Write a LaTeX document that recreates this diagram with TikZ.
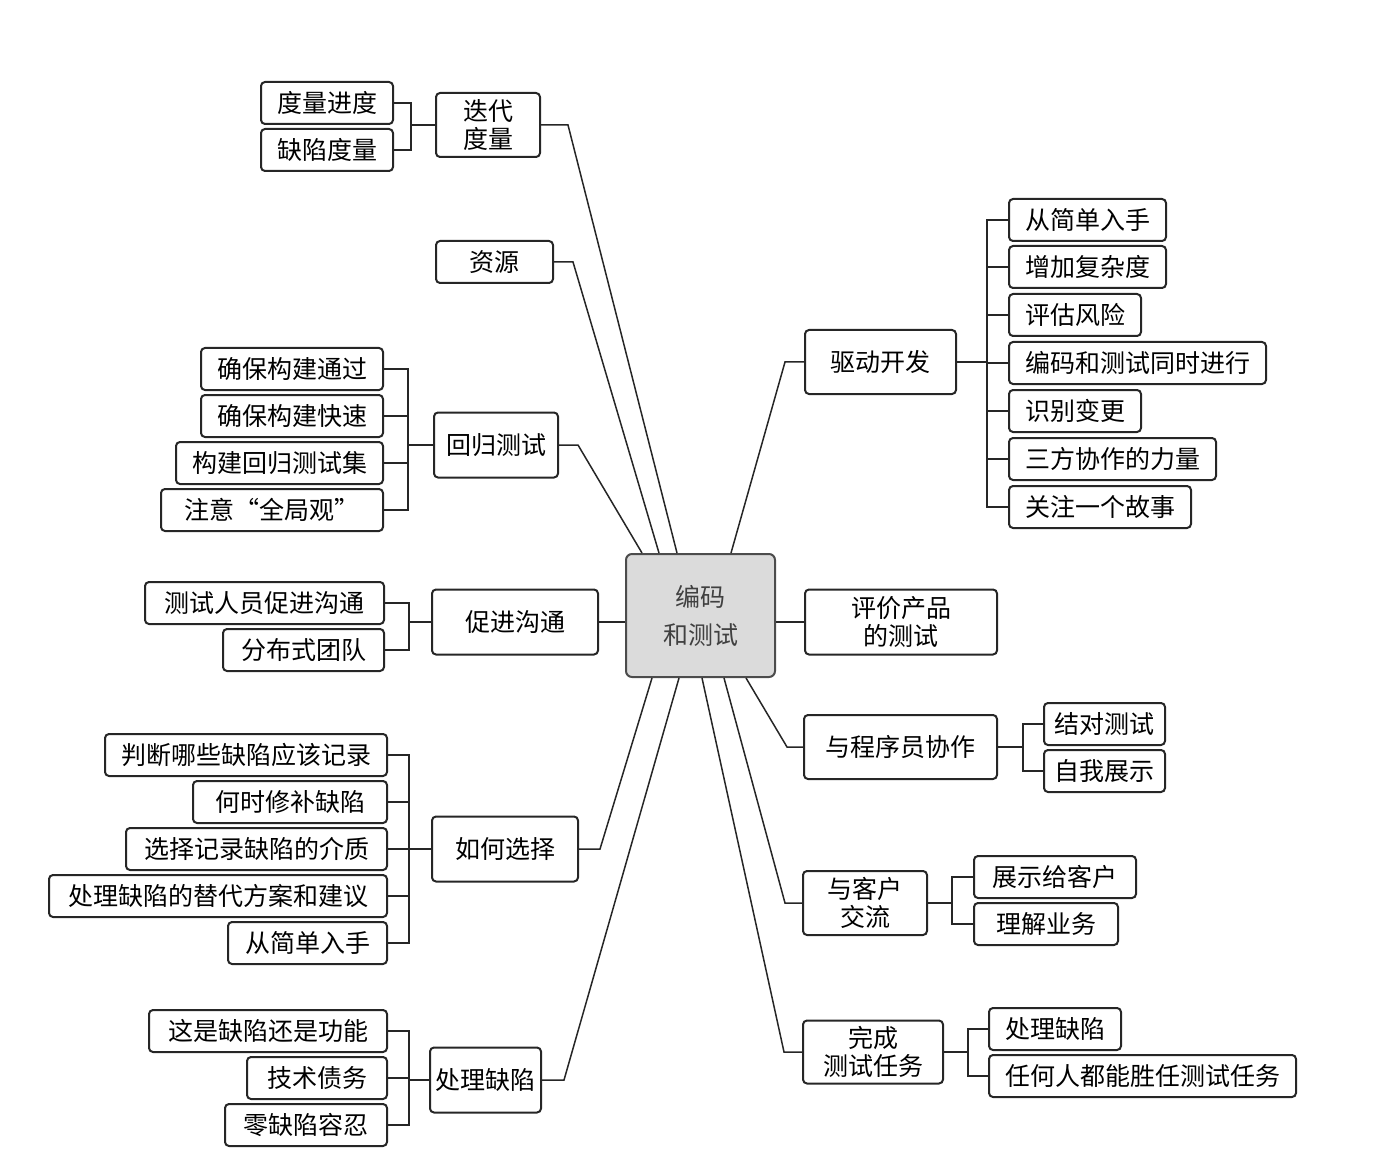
\documentclass[tikz,border=0pt]{standalone}
\usepackage{fontspec}
\setmainfont{Noto Sans CJK SC}
\usetikzlibrary{calc}
\begin{document}
\begin{tikzpicture}[x=0.5pt,y=-0.5pt,
  every node/.style={font=\fontsize{12.5}{14}\selectfont},
  box/.style={draw=black!85, line width=1pt, rounded corners=2pt, fill=white,
    inner sep=0pt, align=center, text=black},
  leaf/.style={box, inner xsep=8pt, minimum height=21pt},
  sz/.style 2 args={minimum width=#1*0.5pt, minimum height=#2*0.5pt},
  wd/.style={minimum width=#1*0.5pt},
  hub/.style={draw=black!70, line width=1pt, rounded corners=3pt, fill=black!14,
    inner sep=0pt, align=center, text=black!75,
    font=\fontsize{12.5}{19}\selectfont},
  link/.style={line width=0.75pt, draw=black!85},
]
\useasboundingbox (0,0) rectangle (1380,1176);

% central topic
\node[hub, sz={149}{123}] (C) at (700.5,615.5) {编码\\和测试};

% ---------- left branches ----------
% iteration metrics
\node[box, sz={104}{64}] (A) at (488,125) {迭代\\度量};
\node[leaf, anchor=east] (a1) at (394,103) {度量进度};
\node[leaf, anchor=east] (a2) at (394,150) {缺陷度量};
\coordinate (ja) at (411,125);
\draw[link] (a1.east) -| (ja) -- (A.west);
\draw[link] (a2.east) -| (ja);

% resources
\node[box, sz={117}{42}] (B) at (494.5,262) {资源};

% regression testing
\node[box, sz={124}{65}] (R) at (496,445) {回归测试};
\node[leaf, anchor=east] (r1) at (384,369) {确保构建通过};
\node[leaf, anchor=east] (r2) at (384,416) {确保构建快速};
\node[leaf, anchor=east] (r3) at (384,463) {构建回归测试集};
\node[leaf, anchor=east, wd=222] (r4) at (384,510) {注意“全局观”};
\coordinate (jr) at (408,445);
\foreach \n in {r1,r2,r3,r4} \draw[link] (\n.east) -| (jr);
\draw[link] (jr) -- (R.west);

% communication
\node[box, sz={166}{65}] (P) at (515,622) {促进沟通};
\node[leaf, anchor=east, wd=239] (p1) at (385,603) {测试人员促进沟通};
\node[leaf, anchor=east, wd=161] (p2) at (385,650) {分布式团队};
\coordinate (jp) at (409,622);
\foreach \n in {p1,p2} \draw[link] (\n.east) -| (jp);
\draw[link] (jp) -- (P.west);

% how to choose
\node[box, sz={146}{65}] (H) at (505,849) {如何选择};
\node[leaf, anchor=east] (h1) at (388,755) {判断哪些缺陷应该记录};
\node[leaf, anchor=east, wd=194] (h2) at (388,802) {何时修补缺陷};
\node[leaf, anchor=east, wd=261] (h3) at (388,849) {选择记录缺陷的介质};
\node[leaf, anchor=east, wd=338] (h4) at (388,896) {处理缺陷的替代方案和建议};
\node[leaf, anchor=east, wd=159] (h5) at (388,943) {从简单入手};
\coordinate (jh) at (409,849);
\foreach \n in {h1,h2,h3,h4,h5} \draw[link] (\n.east) -| (jh);
\draw[link] (jh) -- (H.west);

% handling defects
\node[box, sz={111}{65}] (D) at (485.5,1080) {处理缺陷};
\node[leaf, anchor=east, wd=238] (d1) at (388,1031) {这是缺陷还是功能};
\node[leaf, anchor=east, wd=140] (d2) at (388,1078) {技术债务};
\node[leaf, anchor=east, wd=162] (d3) at (388,1125) {零缺陷容忍};
\coordinate (jd) at (409,1080);
\foreach \n in {d1,d2,d3} \draw[link] (\n.east) -| (jd);
\draw[link] (jd) -- (D.west);

% ---------- right branches ----------
% driving development
\node[box, sz={151}{64}] (Q) at (880.5,362) {驱动开发};
\node[leaf, anchor=west] (q1) at (1008,220) {从简单入手};
\node[leaf, anchor=west] (q2) at (1008,267) {增加复杂度};
\node[leaf, anchor=west] (q3) at (1008,315) {评估风险};
\node[leaf, anchor=west] (q4) at (1008,363) {编码和测试同时进行};
\node[leaf, anchor=west] (q5) at (1008,411) {识别变更};
\node[leaf, anchor=west] (q6) at (1008,459) {三方协作的力量};
\node[leaf, anchor=west] (q7) at (1008,507) {关注一个故事};
\coordinate (jq) at (987,362);
\foreach \n in {q1,q2,q3,q4,q5,q6,q7} \draw[link] (\n.west) -| (jq);
\draw[link] (jq) -- (Q.east);

% product-critiquing tests
\node[box, sz={192}{65}] (E) at (901,622) {评价产品\\的测试};

% working with programmers
\node[box, sz={193}{64}] (W) at (900.5,747) {与程序员协作};
\node[leaf, anchor=west, inner xsep=4pt, wd=121] (w1) at (1043,724) {结对测试};
\node[leaf, anchor=west, inner xsep=4pt, wd=121] (w2) at (1043,771) {自我展示};
\coordinate (jw) at (1023,747);
\foreach \n in {w1,w2} \draw[link] (\n.west) -| (jw);
\draw[link] (jw) -- (W.east);

% customer communication
\node[box, sz={124}{64}] (K) at (865,903) {与客户\\交流};
\node[leaf, anchor=west, wd=162] (k1) at (973,877) {展示给客户};
\node[leaf, anchor=west, wd=144] (k2) at (973,924) {理解业务};
\coordinate (jk) at (952,903);
\foreach \n in {k1,k2} \draw[link] (\n.west) -| (jk);
\draw[link] (jk) -- (K.east);

% completing testing tasks
\node[box, sz={140}{63}] (F) at (873,1052) {完成\\测试任务};
\node[leaf, anchor=west] (f1) at (988,1029) {处理缺陷};
\node[leaf, anchor=west] (f2) at (988,1076) {任何人都能胜任测试任务};
\coordinate (jf) at (968,1052);
\foreach \n in {f1,f2} \draw[link] (\n.west) -| (jf);
\draw[link] (jf) -- (F.east);

% ---------- links to the central topic ----------
\draw[link] (A.east) -- ($(A.east)+(27,0)$) -- ($(C.north west)+(52,0)$);
\draw[link] (B.east) -- ($(B.east)+(19,0)$) -- ($(C.north west)+(34,0)$);
\draw[link] (R.east) -- ($(R.east)+(19,0)$) -- ($(C.north west)+(17,0)$);
\draw[link] (P.east) -- (P.east -| C.west);
\draw[link] (H.east) -- ($(H.east)+(21,0)$) -- ($(C.south west)+(27,0)$);
\draw[link] (D.east) -- ($(D.east)+(22,0)$) -- ($(C.south west)+(54,0)$);
\draw[link] (Q.west) -- ($(Q.west)+(-19,0)$) -- ($(C.north west)+(106,0)$);
\draw[link] (E.west) -- (E.west -| C.east);
\draw[link] (W.west) -- ($(W.west)+(-16,0)$) -- ($(C.south west)+(121,0)$);
\draw[link] (K.west) -- ($(K.west)+(-17,0)$) -- ($(C.south west)+(99,0)$);
\draw[link] (F.west) -- ($(F.west)+(-18,0)$) -- ($(C.south west)+(77,0)$);
\end{tikzpicture}
\end{document}
